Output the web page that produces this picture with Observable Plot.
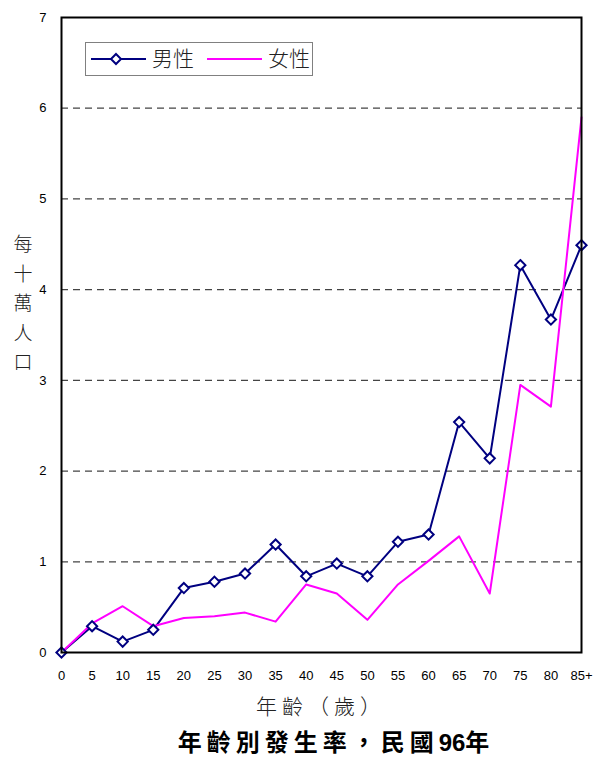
<!DOCTYPE html>
<html>
<head>
<meta charset="utf-8">
<script src="https://cdn.jsdelivr.net/npm/d3@7"></script>
<script src="https://cdn.jsdelivr.net/npm/@observablehq/plot@0.6"></script>
<style>
  html, body { margin: 0; padding: 0; background: #fff; }
  #wrap { position: relative; width: 594px; height: 758px; font-family: "Liberation Sans", Arial, sans-serif; }
  #chart { position: absolute; left: 0; top: 0; }
  .cjk { font-family: "Noto Sans CJK TC", "Noto Sans CJK SC", sans-serif; }
  #legend { position: absolute; left: 85px; top: 42px; width: 228px; height: 34px; border: 1px solid #808080; background: #fff; box-sizing: border-box; }
  #legend svg { overflow: visible; display: block; }
  #ylabel { position: absolute; left: 10px; top: 228px; width: 26px; text-align: center; font-size: 19px; line-height: 29.5px; color: #222; font-weight: 300; }
  #xlabel { position: absolute; left: 48px; width: 546px; top: 692px; text-align: center; font-size: 21px; line-height: 26px; letter-spacing: 5px; color: #222; font-weight: 300; }
  #title { position: absolute; left: 78px; width: 516px; top: 728px; text-align: center; font-size: 24px; line-height: 26px; letter-spacing: 5px; font-weight: bold; color: #000; }
  #title .num { font-family: "Liberation Sans", Arial, sans-serif; letter-spacing: 0; }
</style>
</head>
<body>
<div id="wrap">
  <div id="chart"></div>
  <div id="legend"></div>
  <div id="ylabel" class="cjk"></div>
  <div id="xlabel" class="cjk">年齡（歲）</div>
  <div id="title" class="cjk">年齡別發生率，民國<span class="num">96</span>年</div>
</div>
<script>
// Age groups (years) and incidence per 100,000 population
const ageGroups = ["0","5","10","15","20","25","30","35","40","45","50","55","60","65","70","75","80","85+"];
const maleRates = [0, 0.29, 0.12, 0.25, 0.71, 0.78, 0.87, 1.19, 0.84, 0.98, 0.84, 1.22, 1.30, 2.54, 2.14, 4.27, 3.67, 4.49];
const femaleRates = [0, 0.32, 0.51, 0.29, 0.38, 0.40, 0.44, 0.34, 0.75, 0.65, 0.36, 0.75, 1.01, 1.28, 0.65, 2.95, 2.71, 5.90];
const yTicks = [0, 1, 2, 3, 4, 5, 6, 7];
const gridLevels = [1, 2, 3, 4, 5, 6];
const seriesNames = ["男性", "女性"];
const yLabel = "每十萬人口";

// Each age group sits at its index along a linear x scale
const male = ageGroups.map((a, i) => ({i, age: a, rate: maleRates[i]}));
const female = ageGroups.map((a, i) => ({i, age: a, rate: femaleRates[i]}));
const xIndex = ageGroups.map((a, i) => i);

const navy = "#000080";
const magenta = "#ff00ff";

const W = 594, H = 758;
const mL = 61, mR = 13, mT = 17, mB = 106;

const plot = Plot.plot({
  width: W,
  height: H,
  marginLeft: mL,
  marginRight: mR,
  marginTop: mT,
  marginBottom: mB,
  style: {fontFamily: "'Liberation Sans', Arial, sans-serif", fontSize: "13px", color: "#000", background: "#fff"},
  x: {type: "linear", domain: [0, ageGroups.length - 1], range: [mL, W - mR], label: null},
  y: {domain: [0, 7], range: [H - mB, mT], label: null},
  marks: [
    Plot.ruleY(gridLevels, {stroke: "#444", strokeWidth: 1.2, strokeDasharray: "7,5"}),
    Plot.axisX(xIndex, {tickSize: 0, tickPadding: 18, fontSize: 13, tickFormat: i => ageGroups[i], label: null}),
    Plot.axisY(yTicks, {tickSize: 0, tickPadding: 15, fontSize: 13, tickFormat: "d", label: null}),
    Plot.line(male, {x: "i", y: "rate", stroke: navy, strokeWidth: 2}),
    Plot.line(female, {x: "i", y: "rate", stroke: magenta, strokeWidth: 2}),
    Plot.dot(male, {x: "i", y: "rate", symbol: "diamond2", r: 4.6, fill: "#fff", stroke: navy, strokeWidth: 2}),
    Plot.frame({stroke: "#000", strokeWidth: 2})
  ]
});
document.getElementById("chart").appendChild(plot);

// Legend
const lg = d3.select("#legend").append("svg").attr("width", 226).attr("height", 32);
const items = [{name: seriesNames[0], color: navy, marker: true, x: 5}, {name: seriesNames[1], color: magenta, marker: false, x: 121}];
for (const it of items) {
  lg.append("line").attr("x1", it.x).attr("x2", it.x + 55).attr("y1", 16).attr("y2", 16)
    .attr("stroke", it.color).attr("stroke-width", 2);
  if (it.marker) {
    const cx = it.x + 25, cy = 16, h = 5;
    lg.append("path").attr("d", `M${cx},${cy - h}L${cx + h},${cy}L${cx},${cy + h}L${cx - h},${cy}Z`)
      .attr("fill", "#fff").attr("stroke", it.color).attr("stroke-width", 2);
  }
  lg.append("text").attr("x", it.x + 61).attr("y", 23).text(it.name)
    .attr("font-family", "'Noto Sans CJK TC', sans-serif").attr("font-size", 21).attr("font-weight", 300).attr("fill", "#222");
}

// Vertical y-axis title, one character per line
document.getElementById("ylabel").innerHTML = Array.from(yLabel).join("<br>");
</script>
</body>
</html>
